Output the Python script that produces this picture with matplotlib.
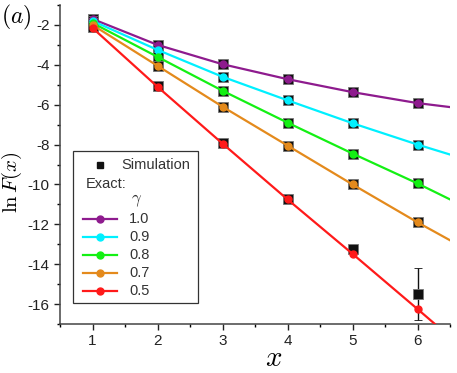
import matplotlib
matplotlib.use("Agg")
import matplotlib.pyplot as plt
from matplotlib.patches import Rectangle
from matplotlib.lines import Line2D
from matplotlib.ticker import MultipleLocator

plt.rcParams['font.family'] = ['Liberation Sans', 'DejaVu Sans']
plt.rcParams['mathtext.fontset'] = 'cm'
plt.rcParams['axes.unicode_minus'] = False

# data
x_pts = [1, 2, 3, 4, 5, 6]
x_curve = [1, 2, 3, 4, 5, 6, 6.5]
gammas = ['1.0', '0.9', '0.8', '0.7', '0.5']
colors = ['#8e1b8e', '#00f0ff', '#14f014', '#e48a1c', '#ff1a1a']
exact_curves = {
    '1.0': [-1.70, -3.00, -3.97, -4.72, -5.37, -5.92, -6.12],
    '0.9': [-1.80, -3.25, -4.60, -5.78, -6.93, -8.00, -8.50],
    '0.8': [-1.90, -3.60, -5.30, -6.90, -8.45, -9.95, -10.75],
    '0.7': [-2.00, -4.05, -6.10, -8.05, -10.00, -11.90, -12.80],
    '0.5': [-2.15, -5.10, -7.95, -10.75, -13.48, -16.25, -17.65],
}
sim = {
    '1.0': [-1.68, -3.00, -3.97, -4.72, -5.37, -5.92],
    '0.9': [-1.78, -3.25, -4.60, -5.78, -6.93, -8.00],
    '0.8': [-1.88, -3.60, -5.30, -6.90, -8.45, -9.95],
    '0.7': [-1.98, -4.05, -6.10, -8.05, -10.00, -11.90],
    '0.5': [-2.12, -5.08, -7.92, -10.72, -13.25, -15.50],
}
sim_err = {
    '1.0': [0.05, 0.05, 0.05, 0.08, 0.08, 0.1],
    '0.9': [0.05, 0.05, 0.05, 0.08, 0.08, 0.1],
    '0.8': [0.05, 0.05, 0.05, 0.08, 0.1, 0.15],
    '0.7': [0.05, 0.05, 0.05, 0.08, 0.1, 0.2],
    '0.5': [0.05, 0.05, 0.08, 0.1, 0.15, 1.3],
}

fig = plt.figure(figsize=(4.57, 3.73), dpi=100)
ax = fig.add_axes([60/457, 1-324/373, 390/457, 319/373])

for g, c in zip(gammas, colors):
    ax.errorbar(x_pts, sim[g], yerr=sim_err[g], fmt='s', color='#111111',
                mec='#777777', mew=0.6, ms=7.5, ecolor='#111111', elinewidth=1,
                capsize=3, zorder=3)
for g, c in zip(gammas, colors):
    ax.plot(x_curve, exact_curves[g], '-', color=c, lw=1.6, zorder=4)
    ax.plot(x_pts, exact_curves[g][:6], 'o', color=c, ms=5, zorder=5)

ax.set_xlim(0.5, 6.5)
ax.set_ylim(-17, -1)
ax.spines['top'].set_visible(False)
ax.spines['right'].set_visible(False)
ax.xaxis.set_minor_locator(MultipleLocator(0.5))
ax.yaxis.set_minor_locator(MultipleLocator(1))
ax.set_xticks([1, 2, 3, 4, 5, 6])
ax.set_yticks([-2, -4, -6, -8, -10, -12, -14, -16])
ax.tick_params(which='major', direction='out', length=4, width=1, labelsize=11, colors='#222222')
ax.tick_params(which='minor', direction='out', length=2.5, width=1)
for s in ['left', 'bottom']:
    ax.spines[s].set_linewidth(1.1)
    ax.spines[s].set_color('#444444')

fig.text(274/457, 1/373, r'$x$', fontsize=21, ha='center', va='bottom')
fig.text(12/457, 1-182/373, r'$\ln F(x)$', fontsize=15, rotation=90, ha='center', va='center')
fig.text(1/457, 1-17/373, r'$(a)$', fontsize=17, va='center', ha='left')

# legend, drawn manually
def ax_xy(px, py):
    return (px - 60)/390, (324 - py)/319

x0, y0 = ax_xy(73, 303)
x1, y1 = ax_xy(198, 151)
ax.add_patch(Rectangle((x0, y0), x1-x0, y1-y0, transform=ax.transAxes,
                       fill=True, facecolor='white', edgecolor='#333333', lw=0.9, zorder=10))
tc = '#333333'
mx, my = ax_xy(100, 165)
ax.plot([mx], [my], 's', color='#111111', ms=5, transform=ax.transAxes, zorder=11, clip_on=False)
tx, ty = ax_xy(121, 165)
ax.text(tx, ty, 'Simulation', transform=ax.transAxes, fontsize=10.5, color=tc, va='center', ha='left', zorder=11)
tx, ty = ax_xy(86, 184)
ax.text(tx, ty, 'Exact:', transform=ax.transAxes, fontsize=10.5, color=tc, va='center', ha='left', zorder=11)
tx, ty = ax_xy(137, 201)
ax.text(tx, ty, r'$\gamma$', transform=ax.transAxes, fontsize=12, color=tc, va='center', ha='center', zorder=11)
for i, (g, c) in enumerate(zip(gammas, colors)):
    py = 219 + 18*i
    ha, hy = ax_xy(83, py)
    hb, _ = ax_xy(117, py)
    hm, _ = ax_xy(100, py)
    ax.add_line(Line2D([ha, hb], [hy, hy], color=c, lw=1.6, transform=ax.transAxes, zorder=11))
    ax.add_line(Line2D([hm], [hy], marker='o', color=c, ms=5, transform=ax.transAxes, zorder=12))
    tx, _ = ax_xy(129, py)
    ax.text(tx, hy, g, transform=ax.transAxes, fontsize=10.5, color=tc, va='center', ha='left', zorder=11)

fig.savefig('out.png', dpi=100)
